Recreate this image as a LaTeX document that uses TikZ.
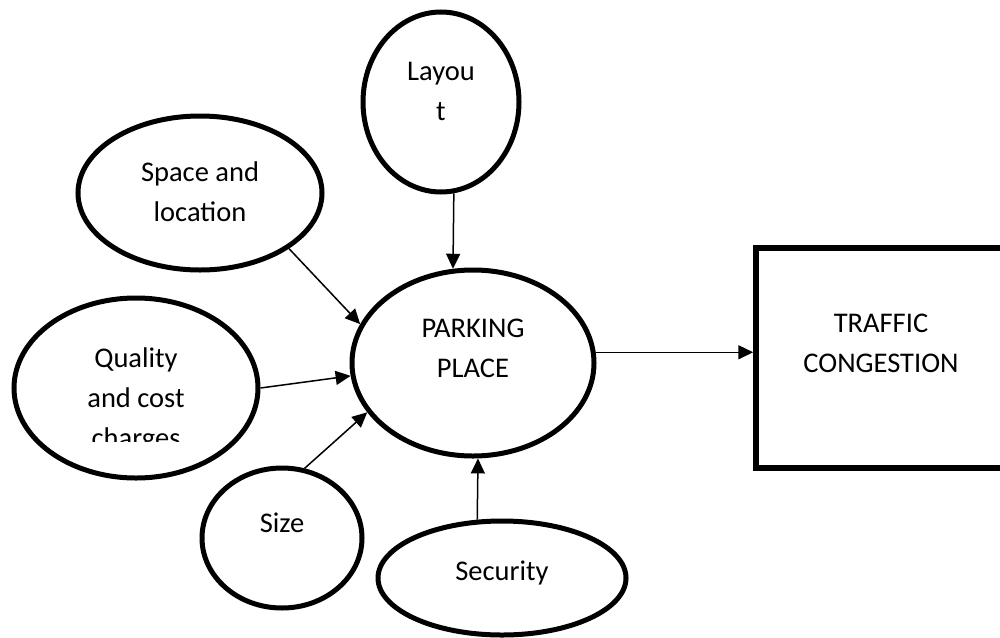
\documentclass[tikz,border=0pt]{standalone}
\usepackage{fontspec}
\setmainfont{Carlito}
\usetikzlibrary{positioning, shapes.geometric, arrows.meta, calc}

% text of a node, set higher than the centre of its shape
\newcommand{\lift}[2]{\raisebox{#1}[\height][\depth]{\begin{tabular}{@{}c@{}}#2\end{tabular}}}

\begin{document}
\begin{tikzpicture}[
    x=1pt, y=-1pt,
    font=\fontsize{28.5pt}{40pt}\selectfont,
    factor/.style={
        draw,
        ellipse,
        line width=5pt,
        inner sep=0pt,
        align=center
    },
    outcome/.style={
        draw,
        rectangle,
        line width=5.5pt,
        minimum width=250pt,
        minimum height=220pt,
        align=center
    },
    arrow/.style={-{Triangle[length=15pt, width=14pt]}, line width=1.5pt}
]

\useasboundingbox (0,0) rectangle (1000,637);

% Central node
\node[factor, minimum width=242pt, minimum height=186pt] (parking) at (473,363)
    {\lift{14pt}{PARKING\\PLACE}};

% Factors
\node[factor, minimum width=156pt, minimum height=180pt] (layout) at (441,102)
    {\lift{10pt}{Layou\\t}};
\node[factor, minimum width=244pt, minimum height=154pt] (space) at (200,193)
    {\lift{0pt}{Space and\\location}};
\node[factor, minimum width=244pt, minimum height=180pt] (quality) at (136,388) {};
\node[factor, minimum width=160pt, minimum height=140pt] (size) at (282,538)
    {\lift{14pt}{Size}};
\node[factor, minimum width=248pt, minimum height=114pt] (security) at (502,578)
    {\lift{6pt}{Security}};

% Text of the quality factor (cut off at the bottom)
\begin{scope}
    \clip (0,298) rectangle (270,441);
    \node[align=center] (qualitytext) at (136,400) {Quality\\and cost\\charges};
\end{scope}

% Outcome
\node[outcome] (traffic) at (881,358)
    {\lift{14pt}{TRAFFIC\\CONGESTION}};

% Arrows into the parking place
\draw[arrow] (layout.-82) -- (parking.102);
\draw[arrow] (space.-32) -- (parking.161);
\draw[arrow] (quality.east) -- (parking.186);
\draw[arrow] (size.72) -- (parking.205);
\draw[arrow] (security.113) -- (parking.-87);

% Arrow to the outcome
\draw[arrow] (parking.5) -- (parking.5 -| traffic.west);

\end{tikzpicture}
\end{document}
